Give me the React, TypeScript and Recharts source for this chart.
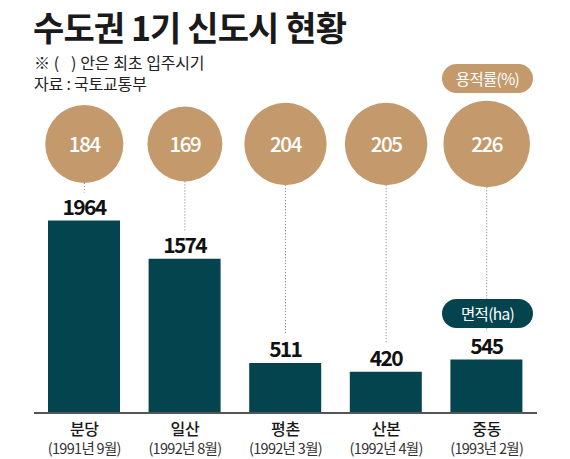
import React from "react";
import { ComposedChart, Bar, Line, XAxis, YAxis, LabelList } from "recharts";

const cities = ["분당", "일산", "평촌", "산본", "중동"];
const moveIn = ["(1991년 9월)", "(1992년 8월)", "(1992년 3월)", "(1992년 4월)", "(1993년 2월)"];
const areaHa = [1964, 1574, 511, 420, 545];
const farPct = [184, 169, 204, 205, 226];

const rows = cities.map((city, i) => ({ city, date: moveIn[i], area: areaHa[i], far: farPct[i] }));

const FONT = "'Noto Sans CJK KR', 'Noto Sans', sans-serif";
const TEAL = "#04444f";
const TAN = "#c49a6c";
const INK = "#1a1a1a";
const BUBBLE_Y = 144;
const BUBBLE_K = 2.88;

const Bubble = (props: any) => {
  const { cx, cy, payload, index } = props;
  const r = BUBBLE_K * Math.sqrt(payload.far);
  return (
    <g key={index}>
      <line x1={cx} x2={cx} y1={BUBBLE_Y + r} y2={cy - 28} stroke="#777" strokeWidth={1} strokeDasharray="1 2" />
      <circle cx={cx} cy={BUBBLE_Y} r={r} fill={TAN} />
      <text x={cx} y={BUBBLE_Y + 7.5} textAnchor="middle" fill="#fff" fontFamily={FONT} fontSize={20.5} fontWeight={500} letterSpacing={-1.4}>
        {payload.far}
      </text>
    </g>
  );
};

const CityTick = (props: any) => {
  const { x, y, index } = props;
  return (
    <g>
      <text x={x} y={y + 14} textAnchor="middle" fill={INK} fontFamily={FONT} fontSize={16} fontWeight={500} letterSpacing={-0.3}>
        {cities[index]}
      </text>
      <text x={x} y={y + 33} textAnchor="middle" fill="#333" fontFamily={FONT} fontSize={14.5} letterSpacing={-0.7}>
        {moveIn[index]}
      </text>
    </g>
  );
};

const Pill = ({ top, bg, text }: { top: number; bg: string; text: string }) => (
  <div
    style={{
      position: "absolute", left: 442, top, width: 91, height: 29, borderRadius: 15, background: bg,
      color: "#fff", fontFamily: FONT, fontSize: 15.5, lineHeight: "28px", textAlign: "center", letterSpacing: -0.7,
    }}
  >
    {text}
  </div>
);

export default function App() {
  return (
    <div style={{ position: "absolute", left: 0, top: 0, width: 570, height: 459, background: "#fff", overflow: "hidden" }}>
      <ComposedChart width={570} height={459} data={rows} margin={{ top: 12, right: 33, bottom: 0, left: 34 }}>
        <XAxis
          dataKey="city"
          height={46}
          interval={0}
          tick={<CityTick />}
          tickLine={false}
          axisLine={{ stroke: "#555", strokeWidth: 2 }}
        />
        <YAxis hide domain={[0, 4092]} />
        <Bar dataKey="area" fill={TEAL} barSize={72} isAnimationActive={false}>
          <LabelList
            dataKey="area"
            position="top"
            offset={6}
            fill="#111"
            fontFamily={FONT}
            fontSize={21}
            fontWeight={700}
            letterSpacing={-1.7}
          />
        </Bar>
        <Line dataKey="area" stroke="none" dot={<Bubble />} activeDot={false} isAnimationActive={false} />
      </ComposedChart>
      <div style={{ position: "absolute", left: 33, top: 5, fontFamily: FONT, fontSize: 34, fontWeight: 700, color: INK, lineHeight: "44px", letterSpacing: -0.9, whiteSpace: "nowrap" }}>
        수도권 1기 신도시 현황
      </div>
      <div style={{ position: "absolute", left: 34, top: 53, fontFamily: FONT, fontSize: 16, color: "#222", lineHeight: "18px", letterSpacing: -0.2, wordSpacing: 0.6, whiteSpace: "pre" }}>
        {"※ (   ) 안은 최초 입주시기"}
      </div>
      <div style={{ position: "absolute", left: 34, top: 74, fontFamily: FONT, fontSize: 16, color: "#222", lineHeight: "18px", letterSpacing: -0.2, whiteSpace: "pre" }}>
        자료 : 국토교통부
      </div>
      <Pill top={64} bg={TAN} text="용적률(%)" />
      <Pill top={299} bg={TEAL} text="면적(ha)" />
    </div>
  );
}
